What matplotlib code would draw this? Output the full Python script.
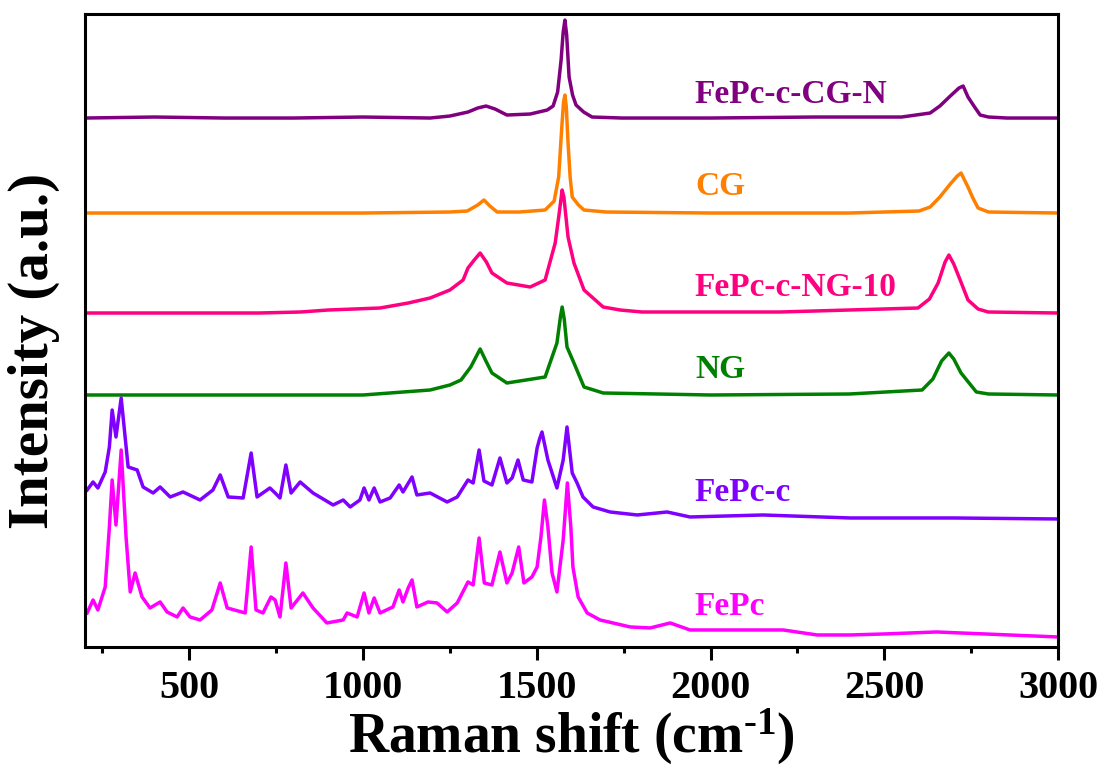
import matplotlib
matplotlib.use('Agg')
import matplotlib.pyplot as plt
from matplotlib.ticker import MultipleLocator

plt.rcParams['font.family'] = ['Liberation Serif', 'DejaVu Serif']
plt.rcParams['font.weight'] = 'bold'
plt.rcParams['mathtext.fontset'] = 'custom'
plt.rcParams['mathtext.rm'] = 'Liberation Serif:bold'
plt.rcParams['mathtext.bf'] = 'Liberation Serif:bold'
plt.rcParams['mathtext.default'] = 'bf'

# 读图得到的谱线数据 (x: cm-1, y: 任意单位, 已含堆叠偏移)
cgn_x = [200, 400, 600, 800, 1000, 1193, 1250, 1302, 1330, 1354, 1380, 1414, 1481, 1530, 1547, 1560,
         1570, 1576, 1581, 1586, 1593, 1603, 1613, 1635, 1659, 1745, 2000, 2300, 2550, 2632, 2660,
         2690, 2715, 2727, 2741, 2760, 2776, 2800, 2853, 3000]
cgn_y = [529, 530, 529, 529, 530, 529, 531, 535, 539, 541, 538, 532, 533, 537, 541, 555,
         587, 615, 627, 612, 570, 552, 542, 535, 530, 529, 529, 530, 530, 534, 541,
         551, 559, 561, 550, 540, 532, 530, 529, 529]

cg_x = [200, 600, 1000, 1250, 1300, 1330, 1348, 1365, 1386, 1450, 1524, 1550, 1563, 1572, 1577, 1581,
        1585, 1590, 1596, 1602, 1620, 1636, 1700, 2000, 2400, 2600, 2632, 2660, 2690, 2710, 2721,
        2741, 2755, 2770, 2800, 3000]
cg_y = [434, 434, 434, 435, 436, 442, 447, 441, 435, 435, 437, 446, 470, 520, 545, 552,
        540, 504, 470, 450, 442, 437, 435, 434, 434, 436, 440, 450, 463, 471, 474,
        460, 449, 439, 435, 434]

ng10_x = [200, 500, 700, 820, 900, 1049, 1130, 1193, 1250, 1288, 1302, 1320, 1337, 1355, 1371, 1414,
          1481, 1524, 1553, 1565, 1573, 1578, 1590, 1607, 1636, 1691, 1740, 1803, 2200, 2597, 2630,
          2655, 2675, 2686, 2700, 2715, 2741, 2770, 2799, 3000]
ng10_y = [334, 334, 334, 335, 337, 339, 344, 349, 357, 367, 379, 387, 394, 385, 374, 364,
          360, 367, 404, 435, 457, 450, 410, 384, 357, 340, 337, 335, 335, 339, 348,
          364, 385, 392, 383, 370, 347, 338, 335, 334]

ng_x = [200, 600, 1000, 1193, 1250, 1282, 1310, 1337, 1355, 1371, 1414, 1524, 1558, 1568, 1573, 1579,
        1587, 1607, 1636, 1691, 2000, 2400, 2609, 2640, 2665, 2686, 2700, 2721, 2765, 2800, 3000]
ng_y = [252, 252, 252, 257, 262, 267, 280, 298, 285, 274, 264, 270, 304, 330, 340, 328,
        300, 284, 260, 254, 252, 253, 257, 268, 286, 294, 288, 274, 255, 253, 252]

fepcc_x = [206, 223, 237, 258, 270, 278, 289, 304, 324, 350, 367, 396, 416, 445, 482, 531, 568, 589,
           612, 655, 678, 695, 732, 747, 761, 778, 793, 819, 856, 914, 943, 963, 991, 1003, 1017,
           1032, 1049, 1078, 1104, 1115, 1141, 1155, 1193, 1242, 1271, 1302, 1317, 1334, 1348, 1371,
           1394, 1414, 1429, 1446, 1461, 1486, 1501, 1508, 1515, 1532, 1558, 1576, 1587, 1602, 1616,
           1633, 1662, 1711, 1789, 1875, 1941, 2151, 2402, 2700, 3000]
fepcc_y = [157, 165, 159, 175, 200, 237, 210, 249, 180, 177, 160, 154, 160, 150, 155, 147, 157, 172,
           150, 149, 194, 150, 159, 154, 149, 182, 154, 165, 154, 142, 147, 140, 147, 159, 147,
           159, 145, 149, 162, 155, 170, 152, 154, 145, 150, 167, 164, 197, 166, 162,
           189, 164, 169, 187, 167, 165, 199, 208, 215, 187, 159, 187, 220, 174, 164,
           150, 140, 135, 132, 135, 130, 132, 129, 129, 128]

fepc_x = [206, 223, 237, 258, 270, 278, 289, 304, 318, 330, 344, 364, 387, 416, 436, 465, 482, 502,
          531, 565, 589, 609, 661, 678, 692, 712, 735, 747, 761, 778, 793, 827, 856, 896, 943, 954,
          983, 1003, 1017, 1032, 1049, 1086, 1104, 1115, 1130, 1141, 1155, 1187, 1213, 1242, 1271,
          1302, 1317, 1334, 1349, 1371, 1394, 1414, 1429, 1448, 1463, 1486, 1501, 1512, 1522, 1532,
          1544, 1558, 1576, 1588, 1598, 1604, 1619, 1645, 1682, 1769, 1826, 1884, 1941, 2114, 2209,
          2307, 2402, 2500, 2650, 3000]
fepc_y = [34, 47, 37, 60, 120, 167, 122, 197, 110, 55, 74, 50, 39, 45, 35, 30, 39, 30,
          27, 37, 64, 39, 34, 100, 37, 34, 50, 47, 30, 84, 39, 54, 39, 24, 27, 34,
          30, 54, 34, 49, 34, 40, 57, 45, 59, 67, 40, 45, 44, 35, 44,
          65, 62, 109, 64, 62, 95, 64, 74, 100, 64, 70, 80, 110, 147, 120,
          74, 55, 107, 164, 120, 80, 50, 34, 27, 20, 19, 24, 17, 17, 17,
          12, 12, 13, 15, 10]

names = ['FePc-c-CG-N', 'CG', 'FePc-c-NG-10', 'NG', 'FePc-c', 'FePc']
colors = ['#800080', '#FF8000', '#FF0080', '#008000', '#8000FF', '#FF00FF']
label_y = [553, 461, 360, 277, 154, 40]

fig = plt.figure(figsize=(11.06, 7.67), dpi=100)
ax = fig.add_axes([0.0769, 0.1565, 0.8797, 0.8252])

series = [(cgn_x, cgn_y), (cg_x, cg_y), (ng10_x, ng10_y), (ng_x, ng_y),
          (fepcc_x, fepcc_y), (fepc_x, fepc_y)]
for (xs, ys), name, c, ly in zip(series, names, colors, label_y):
    ax.plot(xs, ys, color=c, lw=2.5, solid_joinstyle='round')
    ax.text(1955, ly, name, color=c, fontsize=24, fontweight='bold', va='center', ha='left')

ax.set_xlim(200, 3000)
ax.set_ylim(0, 633)
ax.xaxis.set_major_locator(MultipleLocator(500))
ax.xaxis.set_minor_locator(MultipleLocator(250))
ax.set_yticks([])
ax.tick_params(axis='x', which='major', direction='out', length=9.5, width=2.2,
               labelsize=29, pad=7, top=False)
ax.tick_params(axis='x', which='minor', direction='out', length=4.5, width=2.2, top=False)
for s in ax.spines.values():
    s.set_linewidth(2.2)

ax.set_xlabel(r'Raman shift (cm$^{\text{-1}}$)', fontsize=40, fontweight='bold', labelpad=0)
ax.set_ylabel('Intensity (a.u.)', fontsize=41, fontweight='bold')
ax.yaxis.set_label_coords(-0.026, 0.468)

fig.savefig('out.png', dpi=100)
